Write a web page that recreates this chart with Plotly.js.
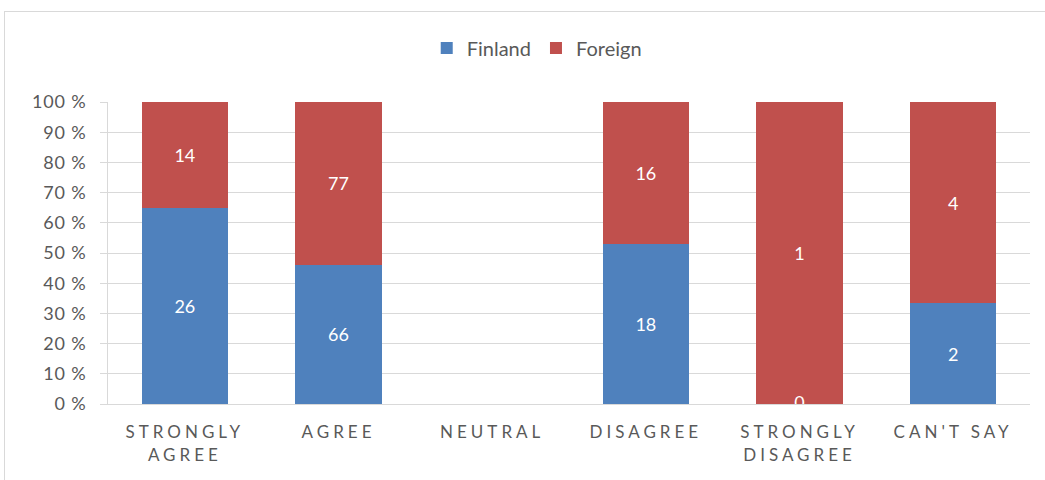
<!DOCTYPE html>
<html>
<head>
<meta charset="utf-8">
<script src="https://cdn.plot.ly/plotly-3.0.1.min.js"></script>
<style>
  html, body { margin: 0; padding: 0; background: #fff; }
  #wrap { position: relative; width: 1045px; height: 480px; overflow: hidden; }
  #frame { position: absolute; left: 4px; top: 11px; width: 1100px; height: 600px; border: 1px solid #d9d9d9; box-sizing: border-box; pointer-events: none; }
  #chart { position: absolute; left: 0; top: 0; width: 1045px; height: 480px; }
  .xtick text { letter-spacing: 4px; }
  .ytick text { letter-spacing: 0.8px; }
</style>
</head>
<body>
<div id="wrap">
  <div id="frame"></div>
  <div id="chart"></div>
</div>
<script>
const categories = ["STRONGLY<br>AGREE", "AGREE", "NEUTRAL", "DISAGREE", "STRONGLY<br>DISAGREE", "CAN'T SAY"];
const finland = [26, 66, 0, 18, 0, 2];
const foreign = [14, 77, 0, 16, 1, 4];
const seriesNames = ["Finland", "Foreign"];
const seriesColors = ["#4f81bd", "#c0504d"];

const labelFont = { family: "Lato, 'Open Sans', sans-serif", size: 18, color: "#ffffff" };

function barTrace(name, vals, color) {
  return {
    type: "bar",
    name: name,
    x: categories,
    y: vals,
    marker: { color: color },
    text: vals.map(v => v > 0 ? String(v) : ""),
    textposition: "inside",
    insidetextanchor: "middle",
    textfont: labelFont,
    hoverinfo: "x+y+name",
    cliponaxis: false
  };
}

// zero-value labels sit on the baseline (white, like the original)
const zeroX = [], zeroText = [];
finland.forEach((v, i) => { if (v === 0) { zeroX.push(categories[i]); zeroText.push("0"); } });

const data = [
  barTrace(seriesNames[0], finland, seriesColors[0]),
  barTrace(seriesNames[1], foreign, seriesColors[1]),
  {
    type: "scatter",
    mode: "text",
    x: zeroX,
    y: zeroX.map(() => 0),
    text: zeroText,
    textposition: "middle center",
    textfont: labelFont,
    showlegend: false,
    hoverinfo: "skip",
    cliponaxis: false
  }
];

const layout = {
  width: 1045,
  height: 480,
  barmode: "stack",
  barnorm: "percent",
  bargap: 0.44,
  paper_bgcolor: "rgba(0,0,0,0)",
  plot_bgcolor: "rgba(0,0,0,0)",
  margin: { l: 108, r: 15, t: 102, b: 76 },
  font: { family: "Lato, 'Open Sans', sans-serif", color: "#595959" },
  showlegend: true,
  legend: {
    orientation: "h",
    x: 0.465, xanchor: "center",
    y: 1.179, yanchor: "middle",
    font: { size: 20, color: "#595959" },
    traceorder: "normal",
    itemwidth: 30
  },
  xaxis: {
    type: "category",
    showgrid: false,
    showline: true,
    linecolor: "#d9d9d9",
    linewidth: 1,
    ticks: "",
    ticklabelstandoff: 13,
    tickfont: { size: 17, color: "#595959" },
    fixedrange: true
  },
  yaxis: {
    range: [0, 100],
    dtick: 10,
    ticksuffix: "\u00a0%",
    showgrid: true,
    gridcolor: "#d9d9d9",
    showline: true,
    linecolor: "#d9d9d9",
    ticks: "outside",
    ticklen: 7,
    tickcolor: "#d9d9d9",
    ticklabelstandoff: 10,
    tickfont: { size: 18, color: "#595959" },
    zeroline: false,
    fixedrange: true
  }
};

Plotly.newPlot("chart", data, layout, { displayModeBar: false, staticPlot: true });
</script>
</body>
</html>
